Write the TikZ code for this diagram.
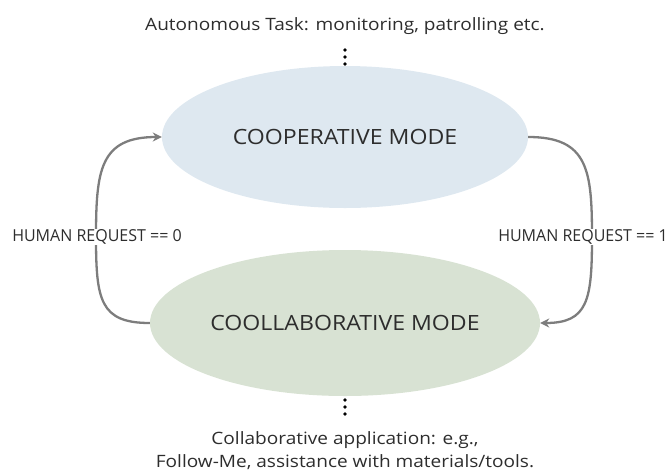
\documentclass[tikz,border=0pt]{standalone}
\usepackage{fontspec}
\setmainfont{Open Sans}
\newfontfamily\notefont[FakeStretch=1.12]{Open Sans}
\newfontfamily\modefont[FakeStretch=1.1]{Open Sans}
\newfontfamily\condfont[FakeStretch=0.97]{Open Sans}
\usetikzlibrary{arrows.meta,shapes.geometric}
\definecolor{txt}{RGB}{45,45,45}
\definecolor{arr}{RGB}{125,125,125}
\definecolor{coopfill}{RGB}{222,232,240}
\definecolor{collfill}{RGB}{216,226,211}
\tikzset{
  modeell/.style={ellipse, inner sep=0pt, text=txt, font=\modefont\fontsize{21}{24}\selectfont},
  note/.style={text=txt, font=\notefont\fontsize{17}{23}\selectfont, align=center, inner sep=0pt},
  cond/.style={text=txt, font=\condfont\fontsize{16.5}{18}\selectfont, fill=white, inner sep=1pt},
  trans/.style={draw=arr, line width=2.3pt, -{Stealth[length=9pt,width=9pt]}},
  dot/.style={circle, fill=black, inner sep=0pt, minimum size=3.8pt}
}
\begin{document}
\begin{tikzpicture}[x=1pt,y=-1pt]
\useasboundingbox (0,0) rectangle (667,475);
% ellipses
\node[modeell, fill=coopfill, minimum width=366pt, minimum height=142pt] (coop) at (345,137) {COOPERATIVE MODE};
\node[modeell, fill=collfill, minimum width=390pt, minimum height=146pt] (coll) at (345,323) {COOLLABORATIVE MODE};
% texts
\node[note] (top) at (345,26) {Autonomous Task: monitoring, patrolling etc.};
\node[note] (bot) at (345,451) {Collaborative application: e.g.,\\Follow-Me, assistance with materials/tools.};
% dots
\node[dot] (t1) at (345,50) {};
\node[dot] (t2) at (345,57) {};
\node[dot] (t3) at (345,64) {};
\node[dot] (b1) at (345,400) {};
\node[dot] (b2) at (345,407) {};
\node[dot] (b3) at (345,414) {};
% transitions
\draw[trans] (coll.west) .. controls (100,323) and (96,300) .. (96,237)
  .. controls (96,170) and (100,137) .. (coop.west);
\draw[trans] (coop.east) .. controls (588,137) and (592,170) .. (592,237)
  .. controls (592,300) and (588,323) .. (coll.east);
\node[cond] (c0) at (97,237) {HUMAN REQUEST == 0};
\node[cond] (c1) at (583,237) {HUMAN REQUEST == 1};
\end{tikzpicture}
\end{document}
